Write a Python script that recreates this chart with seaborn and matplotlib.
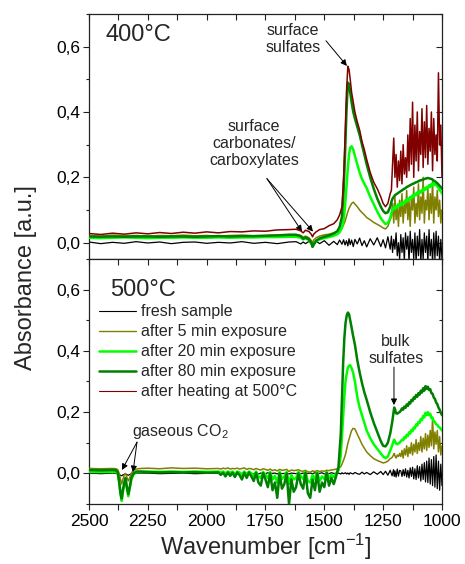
import matplotlib
matplotlib.use("Agg")
import matplotlib.pyplot as plt
import seaborn as sns
from matplotlib.ticker import MultipleLocator, FuncFormatter
from matplotlib.lines import Line2D

sns.set_style("white")
plt.rcParams['font.family'] = ['Liberation Sans', 'DejaVu Sans']
plt.rcParams['mathtext.fontset'] = 'custom'
plt.rcParams['mathtext.rm'] = 'Liberation Sans'
plt.rcParams['mathtext.it'] = 'Liberation Sans:italic'
plt.rcParams['mathtext.bf'] = 'Liberation Sans:bold'

# ---------------- data: top panel (400 °C) ----------------
W_TOP_A = [2500, 2450, 2400, 2350, 2300, 2250, 2200, 2150, 2100, 2050, 2000, 1950, 1900, 1850, 1800, 1750, 1700, 1650]
W_TOP_B = [1620, 1600, 1590, 1580, 1565, 1555, 1550, 1545, 1535, 1520, 1500, 1480, 1460, 1445, 1435, 1425, 1418, 1412, 1406, 1400,
           1395, 1390, 1384, 1377, 1370, 1360, 1350, 1340, 1330, 1320, 1305, 1290, 1275, 1260, 1250, 1240, 1230, 1220]
W_TOP_C = [1215, 1210, 1205, 1200, 1195, 1190, 1185, 1180, 1175, 1170, 1165, 1160, 1155, 1150, 1145, 1140, 1135, 1130, 1125, 1120,
           1115, 1110, 1105, 1100, 1095, 1090, 1085, 1080, 1075, 1070, 1065, 1060, 1055, 1050, 1045, 1040, 1035, 1030, 1025, 1020,
           1015, 1010, 1005, 1000]
W_TOP = W_TOP_A + W_TOP_B + W_TOP_C

TOP_FRESH = ([0.002, -0.003, 0.001, -0.002, 0.003, -0.001, 0.002, -0.003, 0.001, 0.002, -0.002, 0.001, -0.001, 0.003, -0.002, 0.001, -0.003, 0.002]
             + [0.003, -0.004, 0.002, -0.003, 0.004, -0.005, 0.001, -0.004, 0.005, -0.003, 0.006, -0.008, 0.004, -0.006, 0.008, -0.005, 0.009, -0.007, 0.006, -0.01,
                0.012, -0.006, 0.008, -0.012, 0.01, -0.004, 0.014, -0.009, 0.006, -0.013, 0.012, -0.007, 0.015, -0.012, 0.009, -0.016, 0.018, -0.02]
             + [0.02, -0.03, 0.01, -0.02, 0.03, -0.04, 0.0, -0.05, 0.025, -0.03, 0.015, -0.055, 0.03, -0.02, 0.02, -0.06, 0.035, -0.03, 0.01, -0.05,
                0.03, -0.06, 0.02, -0.04, 0.04, -0.06, 0.01, -0.05, 0.03, -0.03, 0.02, -0.06, 0.04, -0.04, 0.01, -0.06, 0.03, -0.05, 0.035, -0.04,
                0.02, -0.06, 0.01, -0.05])
TOP_5MIN = ([0.022, 0.020, 0.023, 0.021, 0.022, 0.020, 0.022, 0.021, 0.023, 0.021, 0.022, 0.020, 0.022, 0.023, 0.021, 0.022, 0.024, 0.025]
            + [0.025, 0.022, 0.016, 0.020, 0.015, 0.006, 0.000, 0.008, 0.015, 0.020, 0.024, 0.026, 0.030, 0.034, 0.038, 0.045, 0.055, 0.065, 0.08, 0.095,
               0.105, 0.112, 0.12, 0.124, 0.118, 0.11, 0.10, 0.092, 0.085, 0.077, 0.07, 0.062, 0.056, 0.05, 0.045, 0.042, 0.05, 0.07]
            + [0.08, 0.12, 0.06, 0.14, 0.07, 0.11, 0.05, 0.13, 0.08, 0.15, 0.06, 0.12, 0.09, 0.16, 0.07, 0.13, 0.05, 0.14, 0.10, 0.17,
               0.06, 0.12, 0.08, 0.18, 0.07, 0.14, 0.09, 0.20, 0.06, 0.13, 0.10, 0.17, 0.07, 0.15, 0.09, 0.19, 0.06, 0.14, 0.10, 0.16,
               0.08, 0.13, 0.06, 0.10])
TOP_20MIN = ([0.015, 0.014, 0.015, 0.016, 0.015, 0.014, 0.015, 0.015, 0.016, 0.015, 0.015, 0.016, 0.015, 0.016, 0.016, 0.017, 0.017, 0.018]
             + [0.018, 0.015, 0.010, 0.013, 0.008, -0.002, -0.012, -0.005, 0.005, 0.010, 0.014, 0.017, 0.021, 0.026, 0.032, 0.045, 0.07, 0.11, 0.17, 0.23,
                0.27, 0.29, 0.295, 0.285, 0.265, 0.24, 0.215, 0.195, 0.18, 0.167, 0.14, 0.118, 0.095, 0.075, 0.065, 0.057, 0.06, 0.075]
             + [0.09, 0.10, 0.108, 0.103, 0.112, 0.108, 0.118, 0.112, 0.12, 0.116, 0.125, 0.12, 0.13, 0.126, 0.135, 0.13, 0.14, 0.136, 0.145, 0.14,
                0.15, 0.145, 0.154, 0.15, 0.158, 0.153, 0.162, 0.158, 0.167, 0.162, 0.171, 0.166, 0.176, 0.17, 0.18, 0.175, 0.183, 0.176, 0.18, 0.172,
                0.168, 0.16, 0.158, 0.15])
TOP_80MIN = ([0.019, 0.018, 0.019, 0.018, 0.019, 0.019, 0.018, 0.019, 0.019, 0.018, 0.019, 0.020, 0.019, 0.020, 0.020, 0.021, 0.022, 0.024]
             + [0.024, 0.020, 0.012, 0.016, 0.010, 0.0, -0.013, -0.006, 0.006, 0.013, 0.018, 0.022, 0.028, 0.035, 0.048, 0.08, 0.16, 0.27, 0.40, 0.49,
                0.485, 0.46, 0.43, 0.40, 0.38, 0.355, 0.33, 0.30, 0.27, 0.24, 0.20, 0.165, 0.135, 0.11, 0.097, 0.09, 0.093, 0.11]
             + [0.125, 0.135, 0.14, 0.145, 0.148, 0.15, 0.153, 0.155, 0.158, 0.16, 0.163, 0.165, 0.167, 0.17, 0.172, 0.174, 0.176, 0.178, 0.18, 0.181,
                0.183, 0.185, 0.186, 0.188, 0.19, 0.191, 0.192, 0.193, 0.195, 0.196, 0.197, 0.198, 0.197, 0.196, 0.195, 0.193, 0.19, 0.188, 0.185, 0.182,
                0.178, 0.174, 0.17, 0.165])
TOP_HEAT = ([0.028, 0.025, 0.029, 0.026, 0.030, 0.027, 0.031, 0.028, 0.032, 0.029, 0.033, 0.030, 0.034, 0.033, 0.036, 0.035, 0.039, 0.040]
            + [0.041, 0.036, 0.030, 0.038, 0.034, 0.025, 0.018, 0.026, 0.033, 0.040, 0.043, 0.052, 0.058, 0.07, 0.085, 0.11, 0.20, 0.32, 0.46, 0.54,
               0.53, 0.50, 0.46, 0.43, 0.40, 0.37, 0.345, 0.31, 0.285, 0.255, 0.215, 0.185, 0.165, 0.14, 0.12, 0.11, 0.12, 0.15]
            + [0.16, 0.24, 0.32, 0.20, 0.27, 0.17, 0.25, 0.19, 0.28, 0.18, 0.30, 0.21, 0.26, 0.20, 0.33, 0.22, 0.38, 0.24, 0.43, 0.20,
               0.36, 0.25, 0.40, 0.22, 0.34, 0.27, 0.41, 0.23, 0.37, 0.26, 0.42, 0.24, 0.35, 0.28, 0.40, 0.22, 0.38, 0.27, 0.33, 0.25,
               0.52, 0.30, 0.36, 0.20])

# ---------------- data: bottom panel (500 °C) ----------------
W_BOT_A = [2500, 2450, 2400, 2385, 2378, 2372, 2366, 2361, 2356, 2350, 2345, 2340, 2333, 2327, 2320, 2312, 2300, 2280]
W_BOT_B = [2250, 2200, 2150, 2100, 2050, 2000]
W_BOT_C = [1950, 1940, 1930, 1920, 1910, 1900, 1890, 1880, 1870, 1860, 1850, 1840, 1830, 1820, 1810, 1800, 1790, 1780, 1770, 1760,
           1750, 1740, 1730, 1720, 1710, 1700, 1690, 1680, 1670, 1660, 1650, 1640, 1630, 1620, 1610, 1600, 1590, 1580, 1570, 1560,
           1550, 1540, 1530, 1520, 1510, 1500, 1490, 1480, 1470, 1460, 1450]
W_BOT_D = [1440, 1430, 1425, 1420, 1415, 1410, 1405, 1400, 1395, 1390, 1385, 1378, 1370, 1360, 1350, 1340, 1330, 1320, 1305, 1290,
           1275, 1260, 1250, 1240, 1230, 1220, 1212, 1206, 1203, 1200, 1195, 1190, 1185, 1180]
W_BOT_E = [1175, 1170, 1165, 1160, 1155, 1150, 1145, 1140, 1135, 1130, 1125, 1120, 1115, 1110, 1105, 1100, 1095, 1090, 1085, 1080,
           1075, 1070, 1065, 1060, 1055, 1050, 1045, 1040, 1035, 1030, 1025, 1020, 1015, 1010, 1005, 1000]
W_BOT = W_BOT_A + W_BOT_B + W_BOT_C + W_BOT_D + W_BOT_E

BOT_FRESH = ([0.001, -0.001, 0.001, 0.0, -0.002, -0.004, -0.006, -0.008, -0.005, -0.003, -0.002, -0.004, -0.006, -0.004, -0.001, 0.001, 0.0, 0.001]
             + [0.001, -0.001, 0.0, 0.001, -0.001, 0.0]
             + [0.001, -0.001, 0.0, 0.001, -0.002, 0.001, 0.0, -0.001, 0.002, -0.001, 0.0, 0.001, -0.002, 0.001, 0.0, -0.001, 0.002, -0.002, 0.001, 0.0,
                -0.001, 0.002, -0.001, 0.0, 0.001, -0.002, 0.002, -0.001, 0.0, 0.001, -0.002, 0.001, 0.0, -0.001, 0.002, -0.001, 0.001, -0.002, 0.0, 0.001,
                -0.001, 0.002, -0.001, 0.0, 0.002, -0.002, 0.001, -0.001, 0.002, 0.0, -0.001]
             + [0.001, -0.002, 0.002, -0.001, 0.0, 0.002, -0.002, 0.001, -0.003, 0.002, 0.0, -0.002, 0.003, -0.001, -0.003, 0.004, -0.002, 0.003, -0.004, 0.005,
                -0.003, 0.006, -0.004, 0.007, -0.006, 0.01, -0.008, 0.012, -0.01, 0.008, -0.012, 0.014, -0.009, 0.01]
             + [0.008, -0.01, 0.012, -0.008, 0.015, -0.012, 0.01, -0.015, 0.018, -0.01, 0.02, -0.018, 0.015, -0.02, 0.025, -0.015, 0.022, -0.025, 0.03, -0.02,
                0.035, -0.028, 0.04, -0.03, 0.05, -0.035, 0.045, -0.04, 0.055, -0.045, 0.06, -0.05, 0.04, -0.055, 0.03, -0.04])
BOT_5MIN = ([0.016, 0.015, 0.016, 0.015, 0.012, 0.0, -0.02, -0.035, -0.02, -0.005, 0.0, -0.01, -0.025, -0.015, 0.0, 0.01, 0.014, 0.016]
            + [0.017, 0.015, 0.018, 0.016, 0.017, 0.015]
            + [0.016, 0.014, 0.017, 0.015, 0.018, 0.014, 0.016, 0.015, 0.017, 0.014, 0.016, 0.018, 0.013, 0.016, 0.015, 0.012, 0.016, 0.013, 0.011, 0.015,
               0.013, 0.010, 0.014, 0.009, 0.012, 0.008, 0.013, 0.010, 0.011, 0.013, 0.006, 0.011, 0.009, 0.010, 0.012, 0.008, 0.007, 0.010, 0.005, 0.004,
               0.008, 0.006, 0.009, 0.006, 0.008, 0.007, 0.010, 0.009, 0.011, 0.012, 0.014]
            + [0.016, 0.022, 0.03, 0.04, 0.05, 0.062, 0.08, 0.098, 0.112, 0.125, 0.138, 0.147, 0.145, 0.128, 0.112, 0.095, 0.082, 0.07, 0.058, 0.048,
               0.042, 0.037, 0.034, 0.036, 0.04, 0.048, 0.052, 0.06, 0.065, 0.058, 0.05, 0.06, 0.055, 0.065]
            + [0.055, 0.075, 0.05, 0.08, 0.06, 0.09, 0.055, 0.085, 0.065, 0.10, 0.06, 0.095, 0.07, 0.11, 0.065, 0.10, 0.075, 0.12, 0.07, 0.115,
               0.08, 0.13, 0.075, 0.125, 0.085, 0.14, 0.09, 0.18, 0.08, 0.135, 0.095, 0.14, 0.07, 0.12, 0.06, 0.09])
BOT_20MIN = ([0.005, 0.004, 0.005, 0.004, 0.0, -0.03, -0.07, -0.09, -0.06, -0.035, -0.02, -0.045, -0.075, -0.05, -0.02, -0.005, 0.003, 0.005]
             + [0.006, 0.005, 0.006, 0.005, 0.006, 0.005]
             + [0.006, 0.003, 0.006, 0.0, 0.006, 0.002, 0.006, -0.002, 0.006, 0.003, -0.005, 0.006, -0.002, 0.006, 0.0, -0.008, 0.006, -0.01, -0.015, 0.005,
                -0.005, -0.015, 0.005, -0.02, -0.008, -0.03, 0.005, -0.018, -0.01, 0.005, -0.035, -0.005, -0.02, -0.015, 0.005, -0.01, -0.018, 0.005, -0.025, -0.03,
                -0.005, -0.02, 0.004, -0.025, -0.01, -0.018, 0.004, -0.015, -0.005, -0.012, 0.0]
             + [0.01, 0.06, 0.12, 0.185, 0.25, 0.30, 0.325, 0.345, 0.352, 0.353, 0.345, 0.33, 0.30, 0.25, 0.215, 0.19, 0.165, 0.14, 0.115, 0.095,
                0.08, 0.065, 0.055, 0.05, 0.055, 0.075, 0.09, 0.105, 0.11, 0.105, 0.097, 0.095, 0.098, 0.10]
             + [0.105, 0.11, 0.108, 0.118, 0.115, 0.126, 0.122, 0.134, 0.13, 0.142, 0.138, 0.15, 0.147, 0.16, 0.156, 0.168, 0.165, 0.178, 0.174, 0.188,
                0.183, 0.198, 0.19, 0.20, 0.19, 0.195, 0.18, 0.182, 0.17, 0.168, 0.16, 0.158, 0.152, 0.15, 0.145, 0.14])
BOT_80MIN = ([0.011, 0.010, 0.011, 0.010, 0.004, -0.025, -0.065, -0.082, -0.055, -0.03, -0.015, -0.04, -0.068, -0.045, -0.015, -0.002, 0.006, 0.006]
             + [0.004, 0.003, 0.004, 0.003, 0.004, 0.002]
             + [0.003, -0.005, 0.002, -0.01, 0.003, -0.008, 0.002, -0.012, 0.003, -0.006, -0.02, 0.002, -0.015, 0.003, -0.01, -0.025, 0.002, -0.03, -0.04, 0.001,
                -0.02, -0.045, 0.0, -0.055, -0.03, -0.08, 0.0, -0.05, -0.035, 0.0, -0.10, -0.02, -0.06, -0.045, 0.0, -0.035, -0.05, 0.002, -0.065, -0.08,
                -0.02, -0.055, 0.0, -0.06, -0.03, -0.045, 0.002, -0.04, -0.015, -0.035, -0.01]
             + [0.02, 0.13, 0.24, 0.36, 0.44, 0.49, 0.515, 0.525, 0.52, 0.50, 0.48, 0.45, 0.42, 0.37, 0.33, 0.295, 0.265, 0.24, 0.20, 0.165,
                0.135, 0.105, 0.09, 0.088, 0.10, 0.13, 0.165, 0.20, 0.215, 0.21, 0.196, 0.195, 0.198, 0.20]
             + [0.205, 0.212, 0.208, 0.218, 0.214, 0.225, 0.22, 0.232, 0.228, 0.24, 0.236, 0.248, 0.244, 0.256, 0.25, 0.262, 0.257, 0.27, 0.264, 0.278,
                0.27, 0.285, 0.276, 0.283, 0.272, 0.275, 0.262, 0.26, 0.248, 0.243, 0.232, 0.226, 0.215, 0.208, 0.198, 0.19])

for arr in (TOP_FRESH, TOP_5MIN, TOP_20MIN, TOP_80MIN, TOP_HEAT):
    assert len(arr) == len(W_TOP), (len(arr), len(W_TOP))
for arr in (BOT_FRESH, BOT_5MIN, BOT_20MIN, BOT_80MIN):
    assert len(arr) == len(W_BOT), (len(arr), len(W_BOT))

LABELS = ["fresh sample", "after 5 min exposure", "after 20 min exposure",
          "after 80 min exposure", "after heating at 500°C"]
COLORS = ["#000000", "#808000", "#00ff00", "#008000", "#800000"]
WIDTHS = [0.9, 1.1, 1.8, 1.8, 1.1]
LEG_WIDTHS = [0.8, 1.0, 1.8, 1.8, 0.8]

# ---------------- figure ----------------
fig = plt.figure(figsize=(4.65, 5.64), dpi=100)
ax1 = fig.add_axes([0.1914, 0.5408, 0.7591, 0.4344])
ax2 = fig.add_axes([0.1914, 0.1064, 0.7591, 0.4344])

top_series = [TOP_FRESH, TOP_5MIN, TOP_20MIN, TOP_80MIN, TOP_HEAT]
for i, ys in enumerate(top_series):
    sns.lineplot(x=W_TOP, y=ys, ax=ax1, color=COLORS[i], linewidth=WIDTHS[i],
                 sort=False, estimator=None, zorder=2 + i)
bot_series = [BOT_FRESH, BOT_5MIN, BOT_20MIN, BOT_80MIN]
for i, ys in enumerate(bot_series):
    sns.lineplot(x=W_BOT, y=ys, ax=ax2, color=COLORS[i], linewidth=WIDTHS[i],
                 sort=False, estimator=None, zorder=2 + i)

fmt = FuncFormatter(lambda v, p: f"{v:.1f}".replace(".", ",").replace("-0,0", "0,0"))
for ax, ylim in ((ax1, (-0.05, 0.70)), (ax2, (-0.10, 0.70))):
    ax.set_xlim(2500, 1000)
    ax.set_ylim(*ylim)
    ax.xaxis.set_major_locator(MultipleLocator(250))
    ax.xaxis.set_minor_locator(MultipleLocator(125))
    ax.yaxis.set_major_locator(MultipleLocator(0.2))
    ax.yaxis.set_minor_locator(MultipleLocator(0.1))
    ax.yaxis.set_major_formatter(fmt)
    ax.set_ylabel("")
    ax.set_xlabel("")
    for s in ax.spines.values():
        s.set_color("#222222")
        s.set_linewidth(0.9)
    ax.tick_params(axis="y", which="both", left=True, right=True, labelsize=12.5, colors="#222222",
                   labelcolor="black", pad=2, direction="out")
    ax.tick_params(axis="y", which="major", length=4, width=0.8)
    ax.tick_params(axis="y", which="minor", length=2.5, width=0.8)
    ax.tick_params(axis="x", which="major", length=4, width=0.8, colors="#222222", labelcolor="black")
    ax.tick_params(axis="x", which="minor", length=4, width=0.8, colors="#222222")
    for t in ax.yaxis.get_major_ticks() + ax.yaxis.get_minor_ticks():
        t.tick2line.set_marker(matplotlib.markers.TICKLEFT)

ax1.tick_params(axis="x", which="both", bottom=False, top=True, direction="in", labelbottom=False)
ax2.tick_params(axis="x", which="both", bottom=True, top=True, direction="out", labelsize=12.5, pad=3)
for t in ax2.xaxis.get_major_ticks() + ax2.xaxis.get_minor_ticks():
    t.tick2line.set_marker(matplotlib.markers.TICKDOWN)

ax2.set_xlabel("Wavenumber [cm$^{-1}$]", fontsize=17, labelpad=2)
fig.text(0.056, 0.507, "Absorbance [a.u.]", rotation=90, fontsize=17, ha="center", va="center")

# annotations top
ap = dict(arrowstyle="-|>", color="black", lw=0.7, mutation_scale=9, shrinkA=0, shrinkB=0)
ax1.text(2428, 0.636, "400°C", fontsize=17, ha="left", va="center")
ax1.text(1633, 0.624, "surface\nsulfates", fontsize=11.5, ha="center", va="center", linespacing=1.15)
ax1.annotate("", xy=(1404, 0.541), xytext=(1493, 0.618), arrowprops=ap)
ax1.text(1799, 0.303, "surface\ncarbonates/\ncarboxylates", fontsize=11.5, ha="center", va="center", linespacing=1.15)
ax1.annotate("", xy=(1595, 0.034), xytext=(1744, 0.196), arrowprops=ap)
ax1.annotate("", xy=(1548, 0.034), xytext=(1744, 0.196), arrowprops=ap)

# annotations bottom
ax2.text(2411, 0.598, "500°C", fontsize=17, ha="left", va="center")
ax2.text(1195, 0.402, "bulk\nsulfates", fontsize=11.5, ha="center", va="center", linespacing=1.15)
ax2.annotate("", xy=(1204, 0.223), xytext=(1204, 0.347), arrowprops=ap)
ax2.text(2317, 0.138, "gaseous CO$_2$", fontsize=11.5, ha="left", va="center")
ax2.annotate("", xy=(2360, 0.011), xytext=(2296, 0.102), arrowprops=ap)
ax2.annotate("", xy=(2313, 0.004), xytext=(2296, 0.102), arrowprops=ap)

handles = [Line2D([], [], color=c, lw=w) for c, w in zip(COLORS, LEG_WIDTHS)]
ax2.legend(handles, LABELS, loc="upper left", bbox_to_anchor=(0.028, 0.815), frameon=False,
           fontsize=11.5, handlelength=2.3, handletextpad=0.35, labelspacing=0.31, borderpad=0,
           borderaxespad=0)

fig.savefig("out.png", dpi=100)
